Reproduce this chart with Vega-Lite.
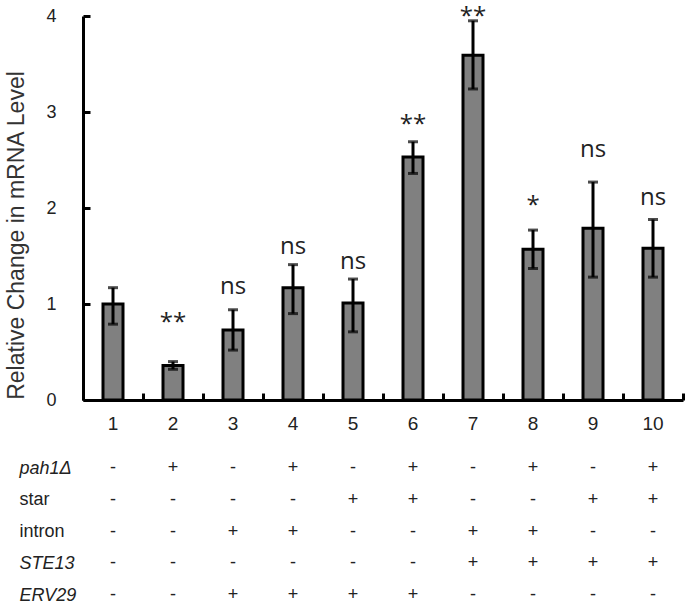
{
  "$schema": "https://vega.github.io/schema/vega-lite/v6.json",
  "width": 600,
  "height": 384,
  "padding": {"left": 5, "top": 4, "right": 0, "bottom": 0},
  "background": "white",
  "config": {"view": {"stroke": null}, "font": "Liberation Sans", "axis": {"grid": false}},
  "datasets": {
    "bars": [
      {"c": 1, "value": 1.00, "lo": 0.79, "hi": 1.17, "sig": "", "sigY": null},
      {"c": 2, "value": 0.36, "lo": 0.32, "hi": 0.40, "sig": "**", "sigY": 0.73},
      {"c": 3, "value": 0.73, "lo": 0.52, "hi": 0.94, "sig": "ns", "sigY": 1.10},
      {"c": 4, "value": 1.17, "lo": 0.90, "hi": 1.41, "sig": "ns", "sigY": 1.52},
      {"c": 5, "value": 1.01, "lo": 0.71, "hi": 1.26, "sig": "ns", "sigY": 1.36},
      {"c": 6, "value": 2.53, "lo": 2.36, "hi": 2.69, "sig": "**", "sigY": 2.79},
      {"c": 7, "value": 3.59, "lo": 3.24, "hi": 3.95, "sig": "**", "sigY": 3.92},
      {"c": 8, "value": 1.57, "lo": 1.37, "hi": 1.77, "sig": "*", "sigY": 1.95},
      {"c": 9, "value": 1.79, "lo": 1.28, "hi": 2.27, "sig": "ns", "sigY": 2.53},
      {"c": 10, "value": 1.58, "lo": 1.28, "hi": 1.88, "sig": "ns", "sigY": 2.03}
    ],
    "table": [
      {"f": "pah1Δ", "c": 1, "s": "-"}, {"f": "pah1Δ", "c": 2, "s": "+"}, {"f": "pah1Δ", "c": 3, "s": "-"}, {"f": "pah1Δ", "c": 4, "s": "+"}, {"f": "pah1Δ", "c": 5, "s": "-"},
      {"f": "pah1Δ", "c": 6, "s": "+"}, {"f": "pah1Δ", "c": 7, "s": "-"}, {"f": "pah1Δ", "c": 8, "s": "+"}, {"f": "pah1Δ", "c": 9, "s": "-"}, {"f": "pah1Δ", "c": 10, "s": "+"},
      {"f": "star", "c": 1, "s": "-"}, {"f": "star", "c": 2, "s": "-"}, {"f": "star", "c": 3, "s": "-"}, {"f": "star", "c": 4, "s": "-"}, {"f": "star", "c": 5, "s": "+"},
      {"f": "star", "c": 6, "s": "+"}, {"f": "star", "c": 7, "s": "-"}, {"f": "star", "c": 8, "s": "-"}, {"f": "star", "c": 9, "s": "+"}, {"f": "star", "c": 10, "s": "+"},
      {"f": "intron", "c": 1, "s": "-"}, {"f": "intron", "c": 2, "s": "-"}, {"f": "intron", "c": 3, "s": "+"}, {"f": "intron", "c": 4, "s": "+"}, {"f": "intron", "c": 5, "s": "-"},
      {"f": "intron", "c": 6, "s": "-"}, {"f": "intron", "c": 7, "s": "+"}, {"f": "intron", "c": 8, "s": "+"}, {"f": "intron", "c": 9, "s": "-"}, {"f": "intron", "c": 10, "s": "-"},
      {"f": "STE13", "c": 1, "s": "-"}, {"f": "STE13", "c": 2, "s": "-"}, {"f": "STE13", "c": 3, "s": "-"}, {"f": "STE13", "c": 4, "s": "-"}, {"f": "STE13", "c": 5, "s": "-"},
      {"f": "STE13", "c": 6, "s": "-"}, {"f": "STE13", "c": 7, "s": "+"}, {"f": "STE13", "c": 8, "s": "+"}, {"f": "STE13", "c": 9, "s": "+"}, {"f": "STE13", "c": 10, "s": "+"},
      {"f": "ERV29", "c": 1, "s": "-"}, {"f": "ERV29", "c": 2, "s": "-"}, {"f": "ERV29", "c": 3, "s": "+"}, {"f": "ERV29", "c": 4, "s": "+"}, {"f": "ERV29", "c": 5, "s": "+"},
      {"f": "ERV29", "c": 6, "s": "+"}, {"f": "ERV29", "c": 7, "s": "-"}, {"f": "ERV29", "c": 8, "s": "-"}, {"f": "ERV29", "c": 9, "s": "-"}, {"f": "ERV29", "c": 10, "s": "-"}
    ]
  },
  "layer": [
    {
      "data": {"name": "bars"},
      "encoding": {
        "x": {
          "field": "c", "type": "ordinal",
          "scale": {"paddingInner": 0, "paddingOuter": 0},
          "axis": {
            "title": null, "labelAngle": 0,
            "domainColor": "black", "domainWidth": 3,
            "ticks": false,
            "labelFont": "Liberation Sans", "labelFontSize": 19, "labelColor": "#222", "labelPadding": 14
          }
        }
      },
      "layer": [
        {
          "mark": {"type": "bar", "size": 20, "fill": "#808080", "stroke": "black", "strokeWidth": 3},
          "encoding": {
            "y": {
              "field": "value", "type": "quantitative",
              "scale": {"domain": [0, 4]},
              "axis": {
                "title": "Relative Change in mRNA Level",
                "values": [0, 1, 2, 3, 4], "format": "d",
                "domainColor": "black", "domainWidth": 3,
                "ticks": false,
                "labelFont": "Liberation Sans", "labelFontSize": 18, "labelColor": "#222", "labelPadding": 27,
                "titleFont": "Liberation Sans", "titleFontSize": 23, "titleFontWeight": "normal", "titleColor": "#333",
                "titleX": -55, "titleY": 219, "titleBaseline": "bottom", "titleAlign": "center"
              }
            }
          }
        },
        {
          "mark": {"type": "rule", "color": "black", "strokeWidth": 3},
          "encoding": {
            "y": {"field": "lo", "type": "quantitative", "axis": null},
            "y2": {"field": "hi"}
          }
        },
        {
          "mark": {"type": "tick", "color": "black", "thickness": 3, "size": 10, "orient": "horizontal"},
          "encoding": {"y": {"field": "lo", "type": "quantitative", "axis": null}}
        },
        {
          "mark": {"type": "tick", "color": "black", "thickness": 3, "size": 10, "orient": "horizontal"},
          "encoding": {"y": {"field": "hi", "type": "quantitative", "axis": null}}
        },
        {
          "transform": [{"filter": "datum.sig != ''"}],
          "mark": {"type": "text", "font": "Open Sans", "fontSize": 24, "baseline": "alphabetic", "color": "#222"},
          "encoding": {
            "y": {
              "field": "sigY", "type": "quantitative",
              "axis": {
                "orient": "left", "offset": -7, "title": null,
                "domain": false, "labels": false,
                "ticks": true, "tickSize": 7, "tickWidth": 3, "tickColor": "black",
                "values": [0, 1, 2, 3, 4]
              }
            },
            "text": {"field": "sig"}
          }
        }
      ],
      "resolve": {"axis": {"y": "independent"}}
    },
    {
      "data": {"name": "table"},
      "mark": {"type": "text", "font": "Liberation Sans", "fontSize": 18, "color": "#222"},
      "encoding": {
        "x": {
          "field": "c", "type": "ordinal",
          "axis": {
            "orient": "bottom", "offset": -7, "title": null,
            "domain": false, "labels": false,
            "ticks": true, "tickSize": 7, "tickWidth": 3, "tickColor": "black", "tickBand": "extent"
          }
        },
        "y": {
          "field": "f", "type": "nominal",
          "sort": ["pah1Δ", "star", "intron", "STE13", "ERV29"],
          "scale": {"type": "point", "range": [452, 579], "padding": 0},
          "axis": {
            "orient": "left", "title": null, "domain": false, "ticks": false,
            "labelAlign": "left", "labelBaseline": "middle", "labelPadding": 64,
            "labelFont": "Liberation Sans", "labelFontSize": 18, "labelColor": "#222",
            "labelFontStyle": {"condition": {"test": "datum.value === 'star' || datum.value === 'intron'", "value": "normal"}, "value": "italic"}
          }
        },
        "text": {"field": "s"}
      }
    }
  ],
  "resolve": {"scale": {"y": "independent"}, "axis": {"y": "independent", "x": "independent"}}
}
